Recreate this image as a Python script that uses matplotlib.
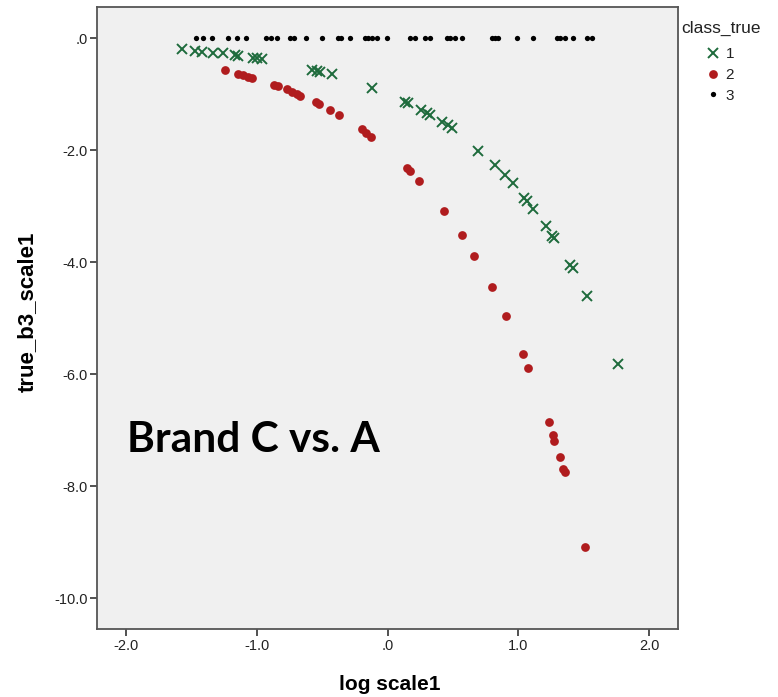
import matplotlib
matplotlib.use("Agg")
import matplotlib.pyplot as plt
from matplotlib.ticker import FuncFormatter, FixedLocator

# ---- data ----
class1_x = [-1.573, -1.473, -1.420, -1.336, -1.259, -1.167, -1.145, -1.030, -0.999, -0.961,
            -0.579, -0.540, -0.517, -0.426, -0.120, 0.133, 0.156, 0.255, 0.301, 0.324,
            0.416, 0.462, 0.492, 0.691, 0.821, 0.898, 0.959, 1.043, 1.066, 1.112,
            1.211, 1.257, 1.272, 1.395, 1.418, 1.525, 1.762]
class1_y = [-0.191, -0.227, -0.245, -0.263, -0.263, -0.298, -0.316, -0.352, -0.352, -0.370,
            -0.566, -0.584, -0.602, -0.638, -0.888, -1.138, -1.155, -1.280, -1.334, -1.370,
            -1.495, -1.548, -1.602, -2.013, -2.263, -2.441, -2.584, -2.852, -2.905, -3.048,
            -3.352, -3.530, -3.566, -4.048, -4.102, -4.602, -5.816]

class2_x = [-1.244, -1.145, -1.106, -1.068, -1.037, -0.869, -0.839, -0.770, -0.732, -0.693,
            -0.670, -0.548, -0.525, -0.441, -0.372, -0.196, -0.166, -0.127, 0.148, 0.171,
            0.240, 0.431, 0.566, 0.660, 0.798, 0.905, 1.035, 1.073, 1.232, 1.262,
            1.275, 1.318, 1.343, 1.356, 1.512]
class2_y = [-0.566, -0.638, -0.655, -0.691, -0.709, -0.834, -0.852, -0.905, -0.959, -0.995,
            -1.030, -1.138, -1.173, -1.280, -1.370, -1.620, -1.691, -1.763, -2.316, -2.370,
            -2.548, -3.084, -3.518, -3.888, -4.441, -4.959, -5.638, -5.888, -6.852, -7.084,
            -7.191, -7.477, -7.691, -7.745, -9.084]

class3_x = [-1.466, -1.412, -1.343, -1.221, -1.152, -1.083, -0.930, -0.892, -0.846, -0.747,
            -0.716, -0.624, -0.502, -0.380, -0.357, -0.288, -0.173, -0.150, -0.120, -0.081,
            -0.005, 0.171, 0.209, 0.286, 0.324, 0.454, 0.477, 0.515, 0.569, 0.798,
            0.821, 0.844, 0.989, 1.112, 1.295, 1.318, 1.356, 1.418, 1.525, 1.563]
class3_y = [0.0] * len(class3_x)

x_ticks = [-2.0, -1.0, 0.0, 1.0, 2.0]
y_ticks = [0.0, -2.0, -4.0, -6.0, -8.0, -10.0]
class_labels = ["1", "2", "3"]

# ---- figure ----
W, H = 778, 697
fig = plt.figure(figsize=(W / 100, H / 100), dpi=100)
fig.patch.set_facecolor("white")

ax_l, ax_r, ax_t, ax_b = 97.3, 678.0, 6.7, 629.0
ax = fig.add_axes([ax_l / W, 1 - ax_b / H, (ax_r - ax_l) / W, (ax_b - ax_t) / H])
ax.set_facecolor("#f0f0f0")

green = "#1e6b3c"
red = "#b01c1e"

h1, = ax.plot(class1_x, class1_y, linestyle="none", marker="x", color=green,
              markersize=6.5, markeredgewidth=1.4, label=class_labels[0], zorder=3)
h2, = ax.plot(class2_x, class2_y, linestyle="none", marker="o", color=red,
              markersize=6.3, markeredgewidth=0, label=class_labels[1], zorder=3)
h3, = ax.plot(class3_x, class3_y, linestyle="none", marker="o", color="black",
              markersize=3.8, markeredgewidth=0, label=class_labels[2], zorder=3)

ax.set_xlim(-2.22, 2.22)
ax.set_ylim(-10.55, 0.564)


def spss_fmt(v, pos):
    s = "%.1f" % abs(v)
    if abs(v) < 1:
        s = s.lstrip("0")
    return ("-" if v < -1e-9 else "") + s


fmt = FuncFormatter(spss_fmt)
ax.xaxis.set_major_locator(FixedLocator(x_ticks))
ax.yaxis.set_major_locator(FixedLocator(y_ticks))
ax.xaxis.set_major_formatter(fmt)
ax.yaxis.set_major_formatter(fmt)

tick_font = ["Liberation Sans Narrow", "Liberation Sans", "DejaVu Sans"]
ax.tick_params(axis="both", direction="out", length=5, width=1.2, color="#333333",
               labelsize=10.5, labelcolor="#222222", pad=2)
ax.tick_params(top=False, right=False)
for lab in ax.get_xticklabels() + ax.get_yticklabels():
    lab.set_family(tick_font)

for s in ax.spines.values():
    s.set_color("#555555")
    s.set_linewidth(1.3)

ax.set_xlabel("log scale1", fontsize=15, fontweight="bold", family=tick_font)
ax.set_ylabel("true_b3_scale1", fontsize=16, fontweight="bold",
              family=["Liberation Sans", "DejaVu Sans"])
ax.xaxis.set_label_coords((390 - ax_l) / (ax_r - ax_l), (ax_b - 675) / (ax_b - ax_t))
ax.yaxis.set_label_coords((38 - ax_l) / (ax_r - ax_l), (ax_b - 312) / (ax_b - ax_t))

ax.text((127 - ax_l) / (ax_r - ax_l), (ax_b - 452) / (ax_b - ax_t), "Brand C vs. A",
        transform=ax.transAxes, fontsize=30.5, fontweight="bold",
        family=["Lato", "DejaVu Sans"], ha="left", va="baseline")

# legend
fig.text(681 / W, 1 - 28 / H, "class_true", fontsize=12.5, ha="left", va="center",
         family=["Liberation Sans", "DejaVu Sans"], color="#222222")
leg = ax.legend(handles=[h1, h2, h3], loc="upper left",
                bbox_to_anchor=(705 / W, 1 - 47 / H), bbox_transform=fig.transFigure,
                frameon=False, handlelength=1.0, handletextpad=0.35, borderpad=0,
                borderaxespad=0, labelspacing=0.45,
                prop={"family": ["Liberation Sans", "DejaVu Sans"], "size": 11})
for t in leg.get_texts():
    t.set_color("#222222")

fig.savefig("out.png", dpi=100)
